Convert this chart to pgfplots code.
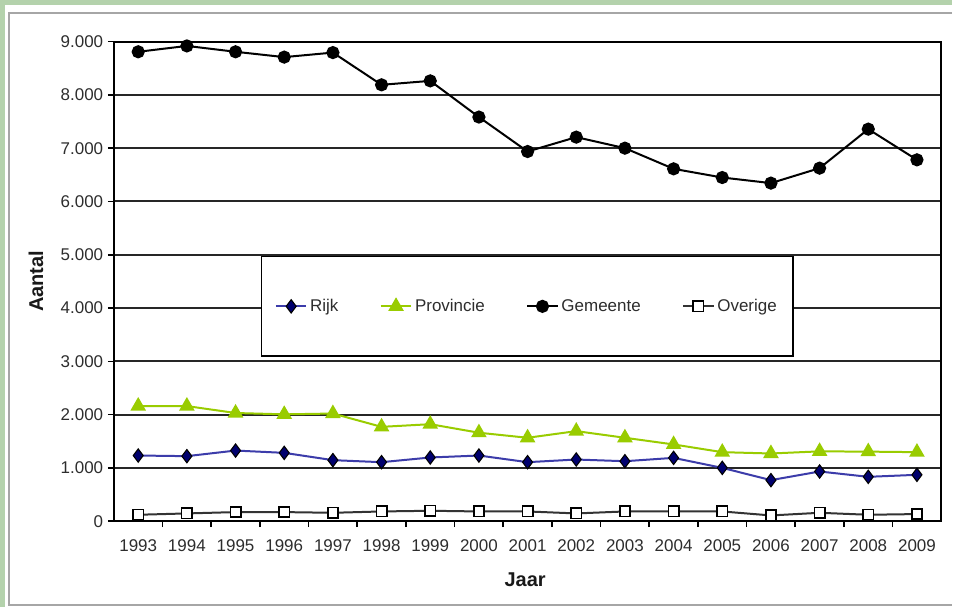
\documentclass[border=0pt]{standalone}
\usepackage{fontspec}
\setmainfont{Liberation Sans}
\usepackage{pgfplots}
\pgfplotsset{compat=1.18}
\definecolor{frgreen}{RGB}{180,210,172}
\definecolor{rijkline}{RGB}{60,60,170}
\definecolor{rijkfill}{RGB}{0,0,110}
\definecolor{provgreen}{RGB}{153,204,0}
\definecolor{txt}{RGB}{45,45,45}

\pgfplotstableread{
x rijk prov gem ov
0  1232 2160 8810 120
1  1220 2160 8920 145
2  1325 2030 8810 170
3  1282 2005 8710 170
4  1145 2020 8795 157
5  1107 1770 8190 182
6  1195 1820 8264 195
7  1232 1660 7585 182
8  1107 1565 6938 182
9  1157 1690 7208 145
10 1125 1565 7001 182
11 1188 1440 6613 182
12 1000 1295 6450 182
13 770  1270 6345 107
14 932  1310 6626 157
15 832  1305 7358 120
16 870  1295 6782 133
}\datatable

\begin{document}
\begin{tikzpicture}
\begin{scope}[x=0.75pt,y=0.75pt,xshift=-85.5pt,yshift=-64.725pt]
\fill[frgreen] (0,0) rectangle (953,608);
\fill[white] (5,0) rectangle (953,603);
\draw[black!35, line width=1.5pt] (953,595) -- (9,595) -- (9,2) -- (953,2);
\path[use as bounding box] (0,0) rectangle (953,608);
\end{scope}
\begin{axis}[
  scale only axis, width=621.2pt, height=360pt,
  xmin=-0.5, xmax=16.5, ymin=0, ymax=9000,
  xtick={0.5,1.5,...,15.5}, xticklabels={,,,,,,,,,,,,,,,},
  extra x ticks={0,1,...,16},
  extra x tick labels={1993,1994,1995,1996,1997,1998,1999,2000,2001,2002,2003,2004,2005,2006,2007,2008,2009},
  extra x tick style={tick style={draw=none}, grid=none},
  ytick={0,1000,...,9000},
  xtick pos=bottom, ytick pos=left,
  scaled y ticks=false,
  yticklabel style={/pgf/number format/.cd, 1000 sep={.}, assume math mode=true},
  xticklabel style={yshift=-6pt},
  ymajorgrids, major grid style={black!85, line width=1.5pt},
  axis line style={black, line width=1.5pt},
  tick align=outside, tick style={black, line width=1.2pt}, major tick length=4.5pt,
  tick label style={font=\fontsize{12.75}{15}\selectfont, text=txt},
  xlabel={Jaar}, ylabel={Aantal},
  every axis x label/.style={at={(rel axis cs:0.497,-0.1215)}, anchor=center, font=\fontsize{15}{18}\selectfont\bfseries, text=black!90},
  every axis y label/.style={at={(rel axis cs:-0.0942,0.5)}, anchor=center, rotate=90, font=\fontsize{15}{18}\selectfont\bfseries, text=black!90},
  legend columns=4,
  legend style={at={(0.4995,0.448)}, anchor=center, draw=black, line width=1.2pt, fill=white,
    font=\fontsize{12.75}{15}\selectfont, text=txt, inner xsep=10pt, inner ysep=30pt,
    /tikz/every even column/.append style={column sep=29pt}},
  legend image code/.code={\draw[mark repeat=2,mark phase=2,#1] plot coordinates {(0pt,0pt)(11.5pt,0pt)(23pt,0pt)};},
]
\addplot[rijkline, line width=1.5pt, mark=diamond*, mark size=5pt, mark options={fill=rijkfill, draw=black, line width=0.8pt}] table[x=x, y=rijk] {\datatable};
\addlegendentry{Rijk}
\addplot[provgreen, line width=1.5pt, mark=triangle*, mark size=5.3pt, mark options={fill=provgreen, draw=provgreen}] table[x=x, y=prov] {\datatable};
\addlegendentry{Provincie}
\addplot[black, line width=1.5pt, mark=*, mark size=4.2pt, mark options={fill=black}] table[x=x, y=gem] {\datatable};
\addlegendentry{Gemeente}
\addplot[black!80, line width=1.5pt, mark=square*, mark size=3.9pt, mark options={fill=white, draw=black, line width=1.2pt}] table[x=x, y=ov] {\datatable};
\addlegendentry{Overige}
\end{axis}
\end{tikzpicture}
\end{document}
